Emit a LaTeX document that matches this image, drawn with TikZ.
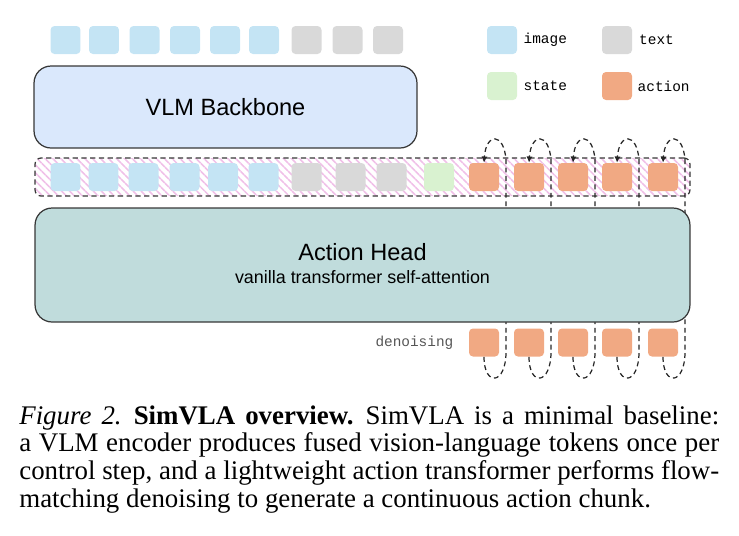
\documentclass[tikz,border=0pt]{standalone}
\usepackage{fontspec}
\setmainfont{Liberation Serif}
\setsansfont{Liberation Sans}
\setmonofont{Liberation Mono}
\usetikzlibrary{positioning, patterns.meta}
\usetikzlibrary{arrows.meta}

\definecolor{imageblue}{RGB}{196,228,244}
\definecolor{textgray}{RGB}{217,217,217}
\definecolor{stategreen}{RGB}{217,242,208}
\definecolor{actionorange}{RGB}{241,169,131}
\definecolor{vlmfill}{RGB}{218,232,252}
\definecolor{headfill}{RGB}{192,220,220}
\definecolor{hatchpink}{RGB}{240,192,232}
\definecolor{edgegray}{RGB}{55,55,55}
\definecolor{denoisegray}{RGB}{85,85,85}

\begin{document}
\begin{tikzpicture}[x=0.02cm, y=-0.02cm]
	\tikzstyle{token}=[rounded corners=0.08cm, minimum width=0.6cm, minimum height=0.56cm, inner sep=0]
	\tikzstyle{block}=[draw=edgegray, line width=0.7pt, rounded corners=0.34cm]
	\tikzstyle{title}=[inner sep=0, font=\sffamily\fontsize{13.4}{16}\selectfont]
	\tikzstyle{legendtext}=[inner sep=0, font=\ttfamily\fontsize{8.2}{10}\selectfont]
	\tikzstyle{feedback}=[draw=black!85, line width=0.7pt, dash pattern=on 2.8pt off 2pt]

	\useasboundingbox (0,0) rectangle (739,535);

	% legend
	\node [token, fill=imageblue] (key-image) at (502,40) {};
	\node [legendtext, right=0.12cm of key-image] (key-image-text) {image};
	\node [token, fill=textgray] (key-text) at (617,40) {};
	\node [legendtext, right=0.13cm of key-text] (key-text-text) {text};
	\node [token, fill=stategreen] (key-state) at (502,86) {};
	\node [legendtext, right=0.12cm of key-state] (key-state-text) {state};
	\node [token, fill=actionorange] (key-action) at (617,86) {};
	\node [legendtext, right=0.1cm of key-action] (key-action-text) {action};

	% backbone and its inputs
	\foreach \x [count=\i] in {65.5,104,144.5,185,225,264}
		\node [token, fill=imageblue] (vlm-in-\i) at (\x,40) {};
	\foreach \x [count=\i from 7] in {306.5,347.5,388}
		\node [token, fill=textgray] (vlm-in-\i) at (\x,40) {};
	\node [block, title, inner sep=0.3333em, fill=vlmfill, minimum width=7.66cm, minimum height=1.64cm] (backbone) at (225.5,107) {VLM Backbone};

	% token sequence
	\node [draw=edgegray, line width=0.7pt, dash pattern=on 3pt off 2pt, rounded corners=0.12cm,
		minimum width=13.1cm, minimum height=0.76cm,
		pattern={Lines[angle=-45, distance=3.2pt, line width=0.9pt]}, pattern color=hatchpink] (seq) at (362.5,177) {};
	\foreach \x [count=\i] in {65.5,103.5,143.5,184.5,223,263.5}
		\node [token, fill=imageblue] (seq-\i) at (\x,177) {};
	\foreach \x [count=\i from 7] in {306.5,350.5,391.5}
		\node [token, fill=textgray] (seq-\i) at (\x,177) {};
	\node [token, fill=stategreen] (seq-10) at (439,177) {};
	\foreach \x [count=\i] in {484,529,573,617,663} {
		\node [token, fill=actionorange] (act-\i) at (\x,177) {};
		\node [token, fill=actionorange] (den-\i) at (\x,342.5) {};
	}
	\node [legendtext, text=denoisegray, left=0.3cm of den-1] (den-text) {denoising};

	% denoising loops, hidden behind the head
	\foreach \l [count=\i] in {506,551,595,639,685}
		\draw [feedback, -{Latex[length=3.5pt, width=3.5pt]}] (den-\i.south) .. controls +(0,30) and +(0,33) .. (\l,352) -- (\l,160) .. controls +(-2,-28) and +(2,-30) .. (act-\i.north);

	\node [block, fill=headfill, minimum width=13.1cm, minimum height=2.28cm] (head) at (362.5,265) {};
	\node [title, anchor=base] (head-title) at (362.5,260) {Action Head};
	\node [inner sep=0, anchor=base, font=\sffamily\fontsize{10.2}{12}\selectfont] (head-sub) at (362.5,283) {vanilla transformer self-attention};

	% caption
	\node [anchor=north west, text width=14cm, inner sep=0, align=justify, font=\fontsize{15.3}{15.9}\selectfont] (caption) at (19,405)
		{\textit{Figure 2.}\hspace{0.45em}\textbf{SimVLA overview.}\hspace{0.45em}SimVLA is a minimal baseline:\linebreak
		a VLM encoder produces fused vision-language tokens once per\linebreak
		control step, and a lightweight action transformer performs flow-\linebreak
		matching denoising to generate a continuous action chunk.};
\end{tikzpicture}
\end{document}
